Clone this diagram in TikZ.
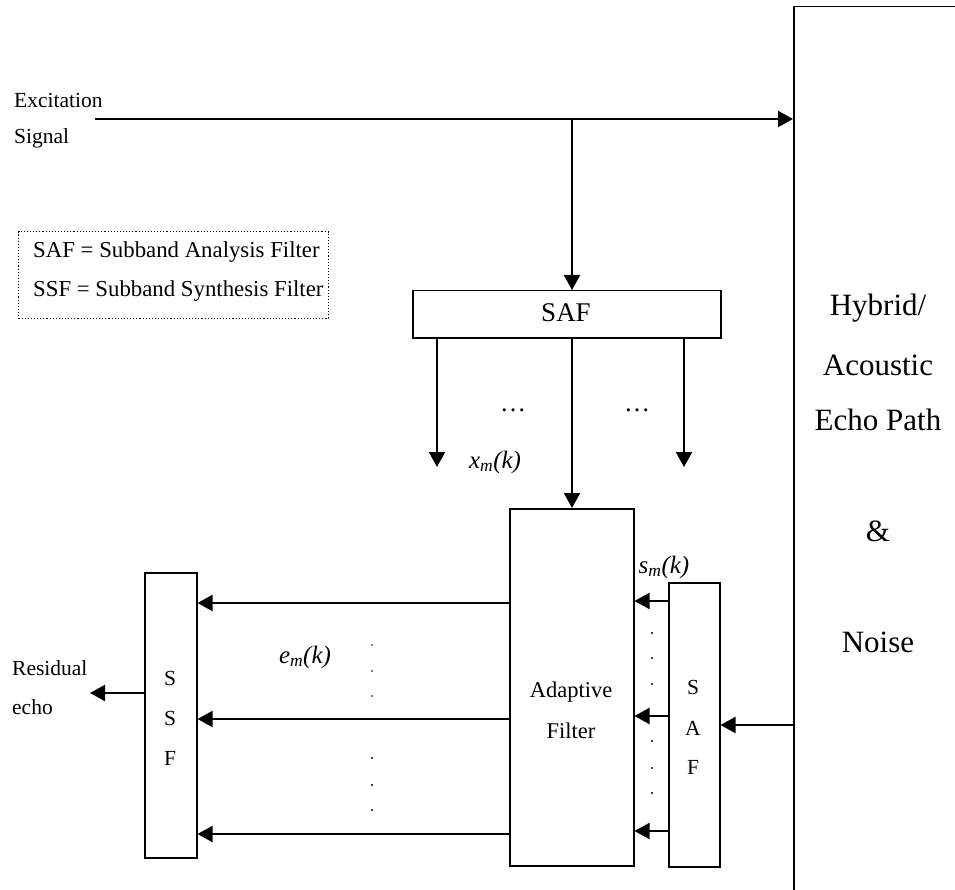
\documentclass[tikz,border=0pt]{standalone}
\usepackage{fontspec}
\setmainfont{Liberation Serif}
\usetikzlibrary{arrows.meta}
\tikzset{
  blk/.style={draw, line width=1.5pt, inner sep=0pt, anchor=north west},
  arr/.style={line width=2pt, -{Triangle[length=15pt,width=16pt]}},
  txt/.style={inner sep=0pt, font=\fontsize{21.5}{24}\selectfont},
  legt/.style={inner sep=0pt, font=\fontsize{22.8}{25}\selectfont},
  mth/.style={inner sep=0pt, font=\fontsize{25}{28}\selectfont\itshape},
  big/.style={inner sep=0pt, font=\fontsize{31}{34}\selectfont},
  dotc/.style={fill=black, circle, inner sep=0pt, minimum size=2.4pt}
}
\begin{document}
\begin{tikzpicture}[x=1pt,y=-1pt]
\clip (0,0) rectangle (955,890);
\fill[white] (0,0) rectangle (955,890);

% big echo path box
\node[blk, minimum width=300pt, minimum height=1000pt] (echo) at (793,6) {};
\node[big] (t1) at (878,308) {Hybrid/};
\node[big] (t2) at (878,365) {Acoustic};
\node[big] (t3) at (878,420) {Echo Path};
\node[big] (t4) at (878,531) {\&};
\node[big] (t5) at (878,642) {Noise};

% excitation signal
\node[txt, anchor=west] (exc1) at (14,100) {Excitation};
\node[txt, anchor=west] (exc2) at (14,138) {Signal};
\coordinate (src) at (95,119);
\coordinate (br) at (572,119);
\draw[arr] (src) -- (echo.west |- src);

% legend
\node[draw, dotted, line width=1.1pt, anchor=north west, minimum width=310pt, minimum height=87pt, inner sep=0pt] (leg) at (18,231) {};
\node[legt, anchor=west] (l1) at (33,252) {SAF = Subband Analysis Filter};
\node[legt, anchor=west] (l2) at (33,291) {SSF = Subband Synthesis Filter};

% top SAF
\node[blk, minimum width=308pt, minimum height=47pt] (saf) at (412,290) {};
\node[inner sep=0pt, font=\fontsize{27}{30}\selectfont] (saft) at (566,313) {SAF};
\draw[arr] (br) -- (br |- saf.north);
\coordinate (o1) at (437,467);
\coordinate (o3) at (684,467);
\draw[arr] (saf.south -| o1) -- (o1);
\draw[arr] (saf.south -| o3) -- (o3);
\node[inner sep=0pt, font=\fontsize{26}{28}\selectfont] (d1) at (513,410) {\dots};
\node[inner sep=0pt, font=\fontsize{26}{28}\selectfont] (d2) at (637,410) {\dots};
\node[mth] (xm) at (495,462) {x\textsubscript{m}(k)};

% adaptive filter
\node[blk, minimum width=124pt, minimum height=357pt] (adf) at (509,508) {};
\node[txt, font=\fontsize{22.5}{25}\selectfont] (a1) at (571,692) {Adaptive};
\node[txt, font=\fontsize{22.5}{25}\selectfont] (a2) at (571,731) {Filter};
\draw[arr] (saf.south -| br) -- (adf.north -| br);

% right SAF
\node[blk, minimum width=51pt, minimum height=284pt] (saf2) at (668,582) {};
\node[txt] (s1) at (693,687) {S};
\node[txt] (s2) at (693,728) {A};
\node[txt] (s3) at (693,767) {F};
\node[mth] (sm) at (664,567) {s\textsubscript{m}(k)};
\draw[arr] (echo.west |- 0,725) -- (saf2.east |- 0,725);
\draw[arr] (saf2.west |- 0,601) -- (adf.east |- 0,601);
\draw[arr] (saf2.west |- 0,716) -- (adf.east |- 0,716);
\draw[arr] (saf2.west |- 0,831) -- (adf.east |- 0,831);
\foreach \yy in {633,658,684,741,768,793} \node[dotc] at (652,\yy) {};

% SSF
\node[blk, minimum width=52pt, minimum height=285pt] (ssf) at (144,572) {};
\node[txt] (f1) at (170,678) {S};
\node[txt] (f2) at (170,718) {S};
\node[txt] (f3) at (170,758) {F};
\draw[arr] (adf.west |- 0,603) -- (ssf.east |- 0,603);
\draw[arr] (adf.west |- 0,719) -- (ssf.east |- 0,719);
\draw[arr] (adf.west |- 0,834) -- (ssf.east |- 0,834);
\node[mth] (em) at (305,657) {e\textsubscript{m}(k)};
\foreach \yy in {645,671,696} \node[dotc, minimum size=1.6pt] at (372,\yy) {};
\foreach \yy in {758,785,810} \node[dotc] at (372,\yy) {};

% residual echo
\coordinate (res) at (90,693);
\draw[arr] (ssf.west |- res) -- (res);
\node[txt, anchor=west] (r1) at (12,668) {Residual};
\node[txt, anchor=west] (r2) at (12,707) {echo};
\end{tikzpicture}
\end{document}
